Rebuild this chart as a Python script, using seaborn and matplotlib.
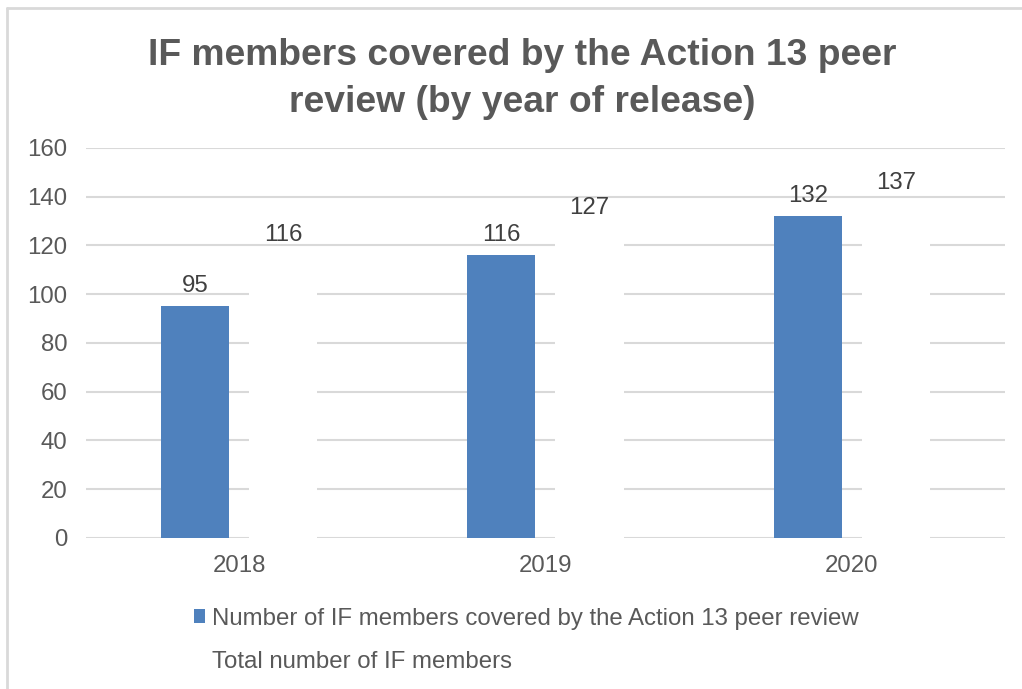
import pandas as pd
import matplotlib.pyplot as plt
import matplotlib.patches as mpatches
import matplotlib.lines as mlines
import seaborn as sns

years = ['2018', '2019', '2020']
covered = [95, 116, 132]
total = [116, 127, 137]
series_names = ['Number of IF members covered by the Action 13 peer review',
                'Total number of IF members']

df = pd.DataFrame({
    'year': years * 2,
    'value': covered + total,
    'series': [series_names[0]] * 3 + [series_names[1]] * 3,
})

sns.set_theme(style='white')
plt.rcParams['font.family'] = ['Liberation Sans', 'DejaVu Sans']

text_gray = '#595959'
grid_gray = '#d9d9d9'
blue = '#4f81bd'
small = 17.3

fig = plt.figure(figsize=(10.22, 6.89), dpi=100)
ax = fig.add_axes([0.0841, 0.2192, 0.8993, 0.566])

# gridlines drawn below the bars, the white "total" bars hide them
ax.set_axisbelow(True)
ax.yaxis.grid(True, color=grid_gray, linewidth=1.5)

sns.barplot(data=df, x='year', y='value', hue='series',
            palette=[blue, 'white'], width=0.575, gap=0.227,
            saturation=1, ax=ax, legend=False)

for p in ax.patches:
    p.set_edgecolor('none')

for cont in ax.containers:
    ax.bar_label(cont, fmt='%d', padding=7, fontsize=small, color='#404040')

ax.set_ylim(0, 160)
ax.set_xlim(-0.5, 2.5)
ax.set_yticks(range(0, 161, 20))
ax.set_xlabel('')
ax.set_ylabel('')
ax.tick_params(axis='both', labelsize=small, colors=text_gray, length=0)
ax.tick_params(axis='x', pad=12)
ax.tick_params(axis='y', pad=13.5)
sns.despine(ax=ax, left=True, bottom=True)

fig.suptitle('IF members covered by the Action 13 peer\nreview (by year of release)',
             x=0.511, y=0.945, fontsize=26.8, fontweight='bold', color=text_gray,
             linespacing=1.43)

handles = [mpatches.Patch(facecolor=blue, edgecolor='none'),
           mpatches.Patch(facecolor='white', edgecolor='none')]
fig.legend(handles, series_names, loc='upper left', bbox_to_anchor=(0.18, 0.132),
           frameon=False, fontsize=small, labelcolor=text_gray,
           handlelength=0.48, handleheight=0.48, handletextpad=0.3,
           labelspacing=0.88, borderaxespad=0)

# chart frame: only top and left edges show in the original
fig.add_artist(mlines.Line2D([0.0073, 1.0], [0.9884, 0.9884], transform=fig.transFigure,
                             color=grid_gray, linewidth=2))
fig.add_artist(mlines.Line2D([0.0073, 0.0073], [0.0, 0.9884], transform=fig.transFigure,
                             color=grid_gray, linewidth=2))

fig.savefig('out.png', dpi=100)
